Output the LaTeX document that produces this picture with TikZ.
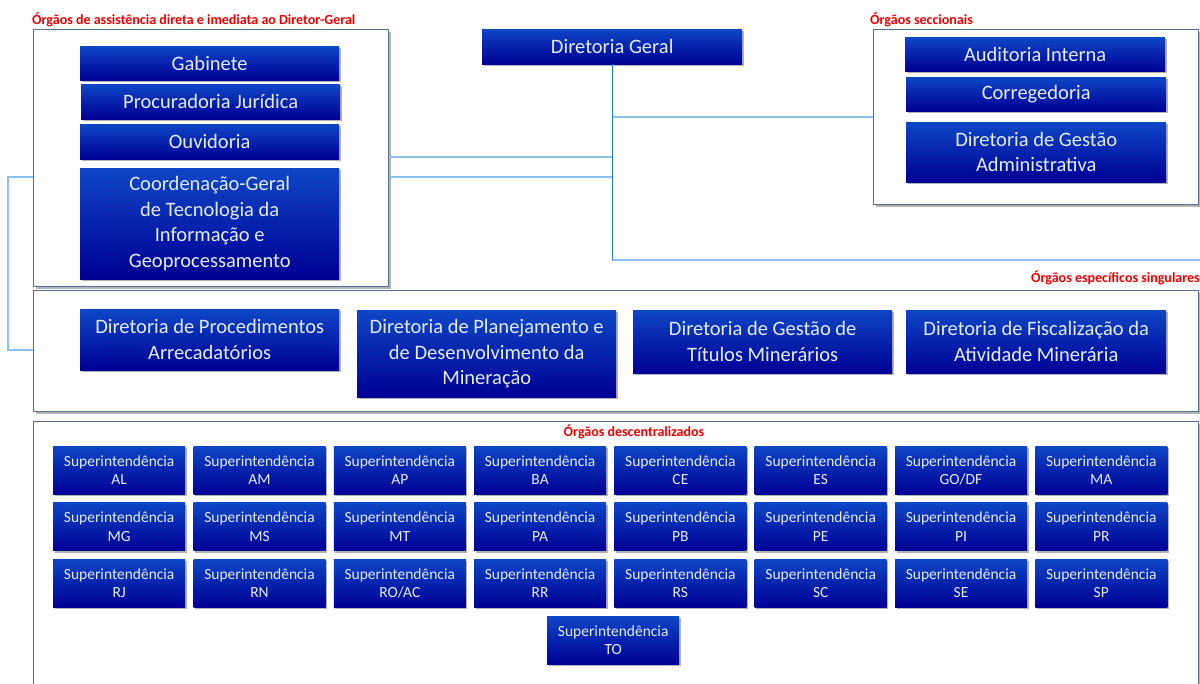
\documentclass[tikz,border=0pt]{standalone}
\usepackage{fontspec}
\setmainfont{Carlito}
\usetikzlibrary{shadows}
\definecolor{boxtop}{RGB}{14,70,198}
\definecolor{boxbot}{RGB}{0,0,148}
\definecolor{boxtext}{RGB}{228,236,255}
\definecolor{frameline}{RGB}{84,112,146}
\definecolor{tieblue}{RGB}{140,190,240}
\definecolor{trunkblue}{RGB}{30,125,220}
\definecolor{labelred}{RGB}{240,0,0}
\begin{document}
\begin{tikzpicture}[x=1pt, y=-1pt,
    orgbox/.style={anchor=north west, inner sep=0pt, top color=boxtop, bottom color=boxbot,
        text=boxtext, align=center, font=\fontsize{20.5}{25.5}\selectfont,
        drop shadow={shadow xshift=1.5pt, shadow yshift=-2pt, opacity=.6}},
    supbox/.style={orgbox, minimum width=132pt, minimum height=48pt, font=\fontsize{15.5}{18.5}\selectfont},
    groupframe/.style={anchor=north west, draw=frameline, line width=1.2pt, fill=white, inner sep=0pt,
        drop shadow={shadow xshift=2pt, shadow yshift=-2.5pt, opacity=.6}},
    grouplabel/.style={text=labelred, inner sep=0pt, font=\fontsize{14}{16}\selectfont\bfseries},
    tie/.style={draw=tieblue, line width=1.8pt},
    trunk/.style={draw=trunkblue, line width=1.1pt}]
    \useasboundingbox (0,0) rectangle (1200,684) ;

    \node [groupframe, minimum width=355pt, minimum height=257pt] (assist) at (33,29) {} ;
    \node [groupframe, minimum width=325pt, minimum height=175pt] (secc) at (873,29) {} ;
    \node [groupframe, minimum width=1165pt, minimum height=121pt] (singl) at (33,290) {} ;
    \node [groupframe, minimum width=1165pt, minimum height=300pt] (descen) at (33,421) {} ;

    \node [grouplabel, anchor=base west] (assistlbl) at (32,25) {Órgãos de assistência direta e imediata ao Diretor-Geral} ;
    \node [grouplabel, anchor=base west] (secclbl) at (870,25) {Órgãos seccionais} ;
    \node [grouplabel, anchor=base east] (singllbl) at (1200,283) {Órgãos específicos singulares} ;
    \node [grouplabel, anchor=base] (descenlbl) at (634,437) {Órgãos descentralizados} ;

    \node [orgbox, minimum width=260pt, minimum height=35pt] (dg) at (482,29) {Diretoria Geral} ;

    \coordinate (hubA) at (612,157) ;
    \coordinate (hubB) at (612,177) ;
    \coordinate (rim) at (1200,260) ;
    \coordinate (bend) at (8,350) ;
    \draw [tie] (assist.east |- hubA) -- (hubA) ;
    \draw [tie] (assist.east |- hubB) -- (hubB) ;
    \draw [tie] (dg.south |- secc.west) -- (secc.west) ;
    \draw [tie] (dg.south |- rim) -- (rim) ;
    \draw [tie] (assist.west |- hubB) -| (bend) -- (singl.west |- bend) ;
    \draw [trunk] (dg.south) -- (dg.south |- rim) ;

    \node [orgbox, minimum width=259pt, minimum height=34pt] (gab) at (80,46) {Gabinete} ;
    \node [orgbox, minimum width=259pt, minimum height=35pt] (proc) at (81,84) {Procuradoria Jurídica} ;
    \node [orgbox, minimum width=259pt, minimum height=35pt] (ouv) at (80,124) {Ouvidoria} ;
    \node [orgbox, minimum width=259pt, minimum height=111pt] (cgti) at (80,168) {Coordenação-Geral\\de Tecnologia da\\Informação e\\Geoprocessamento} ;

    \node [orgbox, minimum width=260pt, minimum height=34pt] (audit) at (905,37) {Auditoria Interna} ;
    \node [orgbox, minimum width=260pt, minimum height=34pt] (correg) at (906,77) {Corregedoria} ;
    \node [orgbox, minimum width=260pt, minimum height=60pt] (dga) at (906,122) {Diretoria de Gestão\\Administrativa} ;

    \node [orgbox, minimum width=259pt, minimum height=61pt] (dipar) at (80,309) {Diretoria de Procedimentos\\Arrecadatórios} ;
    \node [orgbox, minimum width=259pt, minimum height=87pt] (diplam) at (357,310) {Diretoria de Planejamento e\\de Desenvolvimento da\\Mineração} ;
    \node [orgbox, minimum width=259pt, minimum height=63pt] (digtm) at (633,310) {Diretoria de Gestão de\\Títulos Minerários} ;
    \node [orgbox, minimum width=260pt, minimum height=63pt] (difis) at (906,310) {Diretoria de Fiscalização da\\Atividade Minerária} ;

    \foreach \uf [count=\i from 0] in {AL,AM,AP,BA,CE,ES,GO/DF,MA,MG,MS,MT,PA,PB,PE,PI,PR,RJ,RN,RO/AC,RR,RS,SC,SE,SP} {
        \pgfmathtruncatemacro{\col}{mod(\i,8)}
        \pgfmathtruncatemacro{\row}{div(\i,8)}
        \node [supbox] (sup\i) at ({53+140.3*\col},{446+56.5*\row}) {Superintendência\\\uf} ;
    }
    \node [supbox] (sup24) at (547,616) {Superintendência\\TO} ;
\end{tikzpicture}
\end{document}
